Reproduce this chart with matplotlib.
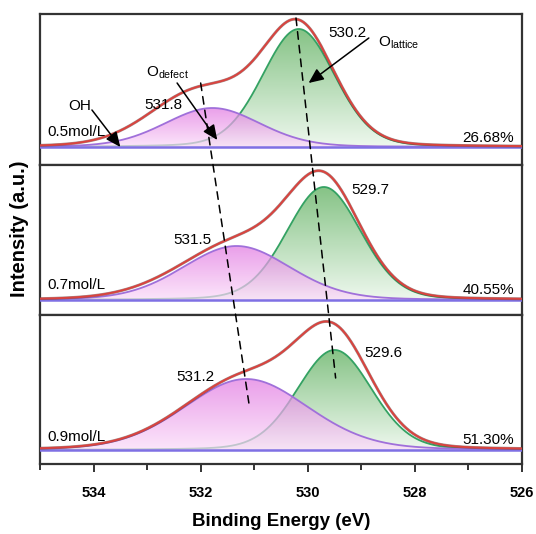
import numpy as np
import matplotlib
matplotlib.use("Agg")
import matplotlib.pyplot as plt
from matplotlib.patches import ConnectionPatch
from matplotlib.colors import LinearSegmentedColormap

plt.rcParams['font.family'] = ['Liberation Sans', 'DejaVu Sans']
plt.rcParams['mathtext.fontset'] = 'custom'
plt.rcParams['mathtext.rm'] = 'Liberation Sans'
plt.rcParams['mathtext.it'] = 'Liberation Sans'

# ---------------- data ----------------
samples = ['0.5mol/L', '0.7mol/L', '0.9mol/L']
ratios = ['26.68%', '40.55%', '51.30%']
lattice_labels = ['530.2', '529.7', '529.6']
defect_labels = ['531.8', '531.5', '531.2']

lattice_center = [530.17, 529.70, 529.50]
lattice_height = [118, 113, 100]
lattice_fwhm = [1.60, 1.64, 1.65]
defect_center = [531.78, 531.33, 531.15]
defect_height = [39, 54, 71]
defect_fwhm = [2.10, 2.37, 2.73]
oh_center = [532.4, 532.8, 532.8]
oh_height = [20, 3, 0]
oh_fwhm = [2.0, 1.9, 1.9]
lorentz_frac = 0.15

energy = np.linspace(526, 535, 901)
x_ticks = [534, 532, 530, 528, 526]


def pvoigt(x, c, h, f, eta=lorentz_frac):
    s = f / 2.3548
    g = np.exp(-(x - c) ** 2 / (2 * s ** 2))
    l = 1.0 / (1 + ((x - c) / (f / 2)) ** 2)
    return h * ((1 - eta) * g + eta * l)


fig = plt.figure(figsize=(5.36, 5.34), dpi=100)
ylims = [(-18, 133), (-15, 135), (-14, 135)]
tops = [1 - 14 / 534, 1 - 165 / 534, 1 - 315 / 534]
bots = [1 - 165 / 534, 1 - 315 / 534, 1 - 464 / 534]
left, right = 40 / 536, 522 / 536

green_cmap = LinearSegmentedColormap.from_list('g', ['#eef8ee', '#86c386'])
purple_cmap = LinearSegmentedColormap.from_list('p', ['#fbdcf9', '#e27ae2'])

axes = []
for i in range(3):
    ax = fig.add_axes([left, bots[i], right - left, tops[i] - bots[i]])
    axes.append(ax)

    lat = pvoigt(energy, lattice_center[i], lattice_height[i], lattice_fwhm[i])
    dfc = pvoigt(energy, defect_center[i], defect_height[i], defect_fwhm[i])
    oh = pvoigt(energy, oh_center[i], oh_height[i], oh_fwhm[i])
    env = lat + dfc + oh

    grad = np.linspace(0, 1, 256).reshape(-1, 1)
    # green (lattice)
    poly = ax.fill_between(energy, 0, lat, facecolor='none', edgecolor='none')
    im = ax.imshow(grad, cmap=green_cmap, origin='lower', aspect='auto',
                   extent=[535, 526, 0, lattice_height[i]], zorder=1)
    im.set_clip_path(poly.get_paths()[0], transform=ax.transData)
    ax.plot(energy, lat, color='#34a263', lw=1.3, zorder=2)
    # purple (defect)
    poly2 = ax.fill_between(energy, 0, dfc, facecolor='none', edgecolor='none')
    im2 = ax.imshow(grad, cmap=purple_cmap, origin='lower', aspect='auto',
                    extent=[535, 526, 0, defect_height[i]], zorder=3, alpha=0.72)
    im2.set_clip_path(poly2.get_paths()[0], transform=ax.transData)
    ax.plot(energy, dfc, color='#a070da', lw=1.3, zorder=4)
    # baseline
    ax.plot(energy, np.zeros_like(energy), color='#7f70e4', lw=1.8, zorder=5)
    # envelope
    ax.plot(energy, env, color='#6a4040', lw=2.1, alpha=0.6, zorder=6)
    ax.plot(energy, env, color='#da433e', lw=1.4, zorder=7)
    ax.set_xlim(535, 526)
    ax.set_ylim(*ylims[i])

    ax.set_yticks([])
    for sp in ax.spines.values():
        sp.set_linewidth(1.6)
        sp.set_color('#333333')
    if i < 2:
        ax.set_xticks([])
    else:
        ax.set_xticks(x_ticks)
        ax.set_xticks(np.arange(527, 536, 2), minor=True)
        ax.tick_params(axis='x', which='major', direction='out', length=6,
                       width=1.4, labelsize=10.5, pad=10, color='#333333')
        ax.tick_params(axis='x', which='minor', direction='out', length=4,
                       width=1.4, color='#333333')
        for lab in ax.get_xticklabels():
            lab.set_fontweight('bold')
        ax.set_xlabel('Binding Energy (eV)', fontsize=13.5, fontweight='bold',
                      labelpad=9)

    ax.text(534.87, [15, 15, 13][i], samples[i], fontsize=11, ha='left',
            va='center', zorder=10)
    ax.text(526.15, [9, 10, 10][i], ratios[i], fontsize=11, ha='right',
            va='center', zorder=10)

fs = 11
# peak labels
axes[0].text(529.26, 114, lattice_labels[0], fontsize=fs, ha='center', va='center', zorder=10)
axes[0].text(532.70, 42, defect_labels[0], fontsize=fs, ha='center', va='center', zorder=10)
axes[1].text(528.83, 110, lattice_labels[1], fontsize=fs, ha='center', va='center', zorder=10)
axes[1].text(532.16, 60, defect_labels[1], fontsize=fs, ha='center', va='center', zorder=10)
axes[2].text(528.58, 97, lattice_labels[2], fontsize=fs, ha='center', va='center', zorder=10)
axes[2].text(532.10, 73, defect_labels[2], fontsize=fs, ha='center', va='center', zorder=10)

# arrows in top panel
ap = dict(arrowstyle='-|>,head_length=0.9,head_width=0.4', color='black',
          lw=1.1, shrinkA=0, shrinkB=0)
a0 = axes[0]
a0.text(534.25, 41, 'OH', fontsize=fs, ha='center', va='center', zorder=10)
a0.annotate('', xy=(533.50, 0), xytext=(534.03, 37), arrowprops=ap, zorder=10)
a0.text(532.62, 74, r'O$_{\mathrm{defect}}$', fontsize=fs, ha='center', va='center', zorder=10)
a0.annotate('', xy=(531.69, 7), xytext=(532.44, 64), arrowprops=ap, zorder=10)
a0.text(528.30, 104, r'O$_{\mathrm{lattice}}$', fontsize=fs, ha='center', va='center', zorder=10)
a0.annotate('', xy=(529.985, 64), xytext=(528.86, 109), arrowprops=ap, zorder=10)

# dashed guide lines across panels
for (x0, y0), (x1, y1) in [((530.22, 129), (529.48, 72)), ((532.0, 64), (531.1, 47))]:
    cp = ConnectionPatch(xyA=(x0, y0), coordsA=axes[0].transData,
                         xyB=(x1, y1), coordsB=axes[2].transData,
                         color='black', lw=1.1, linestyle=(0, (5, 4)), zorder=20)
    fig.add_artist(cp)

fig.text(20 / 536, 1 - 229 / 534, 'Intensity (a.u.)', rotation=90, fontsize=14.5,
         fontweight='bold', ha='center', va='center')

fig.savefig('out.png', dpi=100)
